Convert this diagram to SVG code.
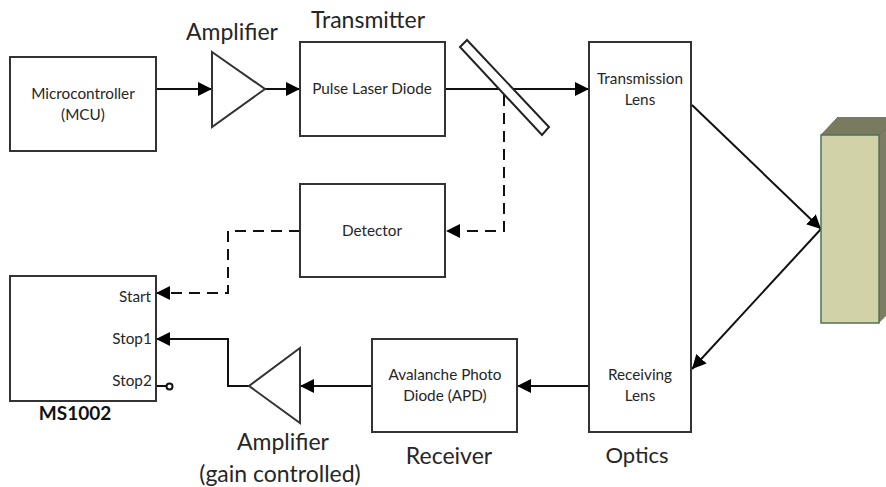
<svg xmlns="http://www.w3.org/2000/svg" width="886" height="487" viewBox="0 0 886 487">
<style>
.box{fill:#fff;stroke:#333;stroke-width:2}
.ln{fill:none;stroke:#111;stroke-width:2}
.ds{stroke-dasharray:11 7}
text{font-family:Lato,"Liberation Sans",sans-serif;fill:#262626;text-anchor:middle}
.s{font-size:15.300px}
.l{font-size:23px}
</style>
<defs>
<marker id="a" markerUnits="userSpaceOnUse" markerWidth="15" markerHeight="16" refX="14" refY="8" orient="auto"><path d="M0 1L14 8L0 15Z" fill="#000"/></marker>
</defs>
<rect width="886" height="487" fill="#fff"/>
<g id="connectors">
<path class="ln" d="M156 89H212" marker-end="url(#a)"/>
<path class="ln" d="M265 89H300" marker-end="url(#a)"/>
<path class="ln" d="M445 89H589" marker-end="url(#a)"/>
<path class="ln ds" d="M504 95V231H446" marker-end="url(#a)"/>
<path class="ln ds" d="M300 231H228V293H156" marker-end="url(#a)"/>
<path class="ln" d="M692 105L821 229" marker-end="url(#a)"/>
<path class="ln" d="M821 229L692 369" marker-end="url(#a)"/>
<path class="ln" d="M589 386H517" marker-end="url(#a)"/>
<path class="ln" d="M372 386H300" marker-end="url(#a)"/>
<path class="ln" d="M249 386H228V339H156" marker-end="url(#a)"/>
<path class="ln" d="M156 386H166"/>
<circle cx="169.500" cy="386.500" r="3" fill="#fff" stroke="#111" stroke-width="2"/>
</g>
<g id="mcu"><rect class="box" x="10" y="57" width="146" height="94"/><text class="s" x="83" y="99">Microcontroller</text><text class="s" x="83" y="120">(MCU)</text></g>
<g id="amp1"><path class="box" d="M212 52L265 89L212 127Z"/><text class="l" x="232" y="40">Amplifier</text></g>
<g id="laser"><rect class="box" x="300" y="42" width="145" height="94"/><text class="s" x="372" y="94">Pulse Laser Diode</text><text class="l" x="368" y="28">Transmitter</text></g>
<g id="splitter"><path d="M460 47L467 40L549 127L542 135Z" fill="#fff" stroke="#222" stroke-width="2"/></g>
<g id="detector"><rect class="box" x="300" y="184" width="145" height="93"/><text class="s" x="372" y="236">Detector</text></g>
<g id="optics"><rect class="box" x="589" y="42" width="102" height="390"/><text class="s" x="640" y="84">Transmission</text><text class="s" x="640" y="105">Lens</text><text class="s" x="640" y="380">Receiving</text><text class="s" x="640" y="401">Lens</text><text class="l" x="637" y="463" style="font-size:22px">Optics</text></g>
<g id="target"><path d="M879 135L886 128V316L879 323Z" fill="#7d7d66"/><path d="M821 135L838 117H886V128L879 135Z" fill="#7a7a60"/><path d="M821 135L838 117M879 135L886 128" stroke="#5f7a5f" fill="none"/><rect x="821" y="135" width="58" height="188" fill="#d2d2a8" stroke="#4f7355" stroke-width="1.500"/></g>
<g id="ms1002"><rect class="box" x="10" y="276" width="146" height="125"/><text class="s" x="135" y="302">Start</text><text class="s" x="132" y="344">Stop1</text><text class="s" x="132" y="386">Stop2</text><text x="75" y="420" style="font-size:19px;font-weight:700;fill:#111">MS1002</text></g>
<g id="amp2"><path class="box" d="M300 348V423L249 386Z"/><text class="l" x="283" y="450">Amplifier</text><text class="l" x="280" y="482">(gain controlled)</text></g>
<g id="apd"><rect class="box" x="372" y="339" width="145" height="93"/><text class="s" x="445" y="380">Avalanche Photo</text><text class="s" x="445" y="401">Diode (APD)</text><text class="l" x="449" y="464">Receiver</text></g>
</svg>
